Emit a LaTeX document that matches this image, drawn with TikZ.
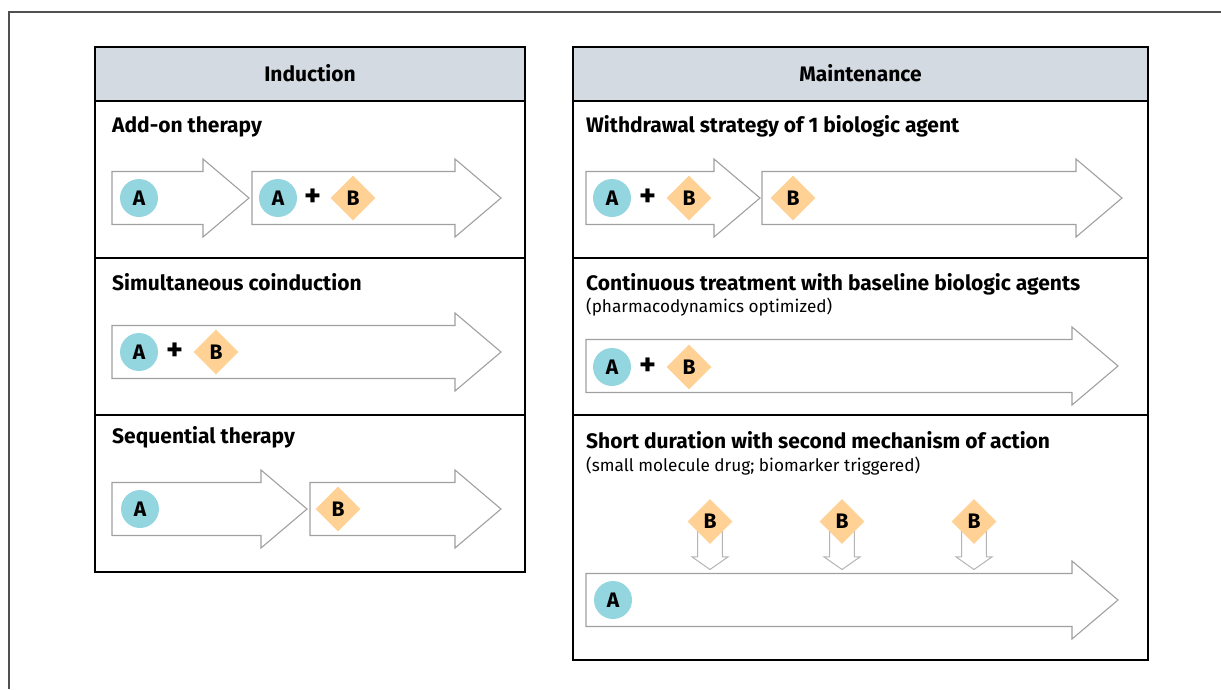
\documentclass[tikz,border=0pt]{standalone}
\usepackage{fontspec}
\setmainfont{Fira Sans}
\usetikzlibrary{shapes.geometric}
\definecolor{hdrfill}{HTML}{D3DAE1}
\definecolor{circfill}{HTML}{94D6E0}
\definecolor{diafill}{HTML}{FFD194}
\definecolor{arrgray}{HTML}{A0A0A0}
\definecolor{dngray}{HTML}{B4B4B4}
\definecolor{framegray}{HTML}{505050}
\tikzset{
  panel/.style={draw=black, line width=1.1pt},
  hdrbox/.style={fill=hdrfill, draw=black, line width=1.1pt},
  hdrtext/.style={font=\fontsize{21}{23}\selectfont\bfseries, anchor=base},
  rowtitle/.style={font=\fontsize{21}{23}\selectfont\bfseries, anchor=base west, inner sep=0pt},
  rowsub/.style={font=\fontsize{17.2}{19}\selectfont, anchor=base west, inner sep=0pt},
  arrowline/.style={draw=arrgray, line width=1.1pt, fill=white, line join=miter},
  dnarrow/.style={draw=dngray, line width=1pt, fill=white},
  circA/.style={circle, fill=circfill, minimum size=38pt, inner sep=0pt, font=\fontsize{21}{21}\selectfont\bfseries},
  diaB/.style={diamond, fill=diafill, minimum width=45pt, minimum height=45pt, inner sep=0pt, font=\fontsize{21}{21}\selectfont\bfseries},
  plussign/.style={inner sep=0pt, font=\fontsize{32}{32}\selectfont\bfseries}
}
\newcommand\fatarrow[3]{%
  \draw[arrowline] ({#1},{#3-26.5}) -- ({#2-46},{#3-26.5}) -- ({#2-46},{#3-39}) -- ({#2},{#3}) -- ({#2-46},{#3+39}) -- ({#2-46},{#3+26.5}) -- ({#1},{#3+26.5}) -- cycle;}
\newcommand\dnarrowB[3]{%
  \draw[dnarrow] ({#1-12.3},{#2}) -- ({#1-12.3},{#3-12.6}) -- ({#1-18},{#3-12.6}) -- ({#1},{#3}) -- ({#1+18},{#3-12.6}) -- ({#1+12.3},{#3-12.6}) -- ({#1+12.3},{#2});}
\begin{document}
\begin{tikzpicture}[x=1pt, y=-1pt]
\useasboundingbox (0,0) rectangle (1221,689);
% outer frame (top and left)
\draw[framegray, line width=1.3pt] (1221,12) -- (9,12) -- (9,689);

% ---------- Induction panel ----------
\draw[hdrbox] (95,47) rectangle (525,101);
\draw[panel] (95,47) rectangle (525,572);
\draw[panel] (95,258) -- (525,258);
\draw[panel] (95,415) -- (525,415);
\node[hdrtext] (hind) at (310,81.5) {Induction};

\node[rowtitle] (t1) at (112,132) {Add-on therapy};
\fatarrow{112}{249}{198}
\fatarrow{252}{501}{198}
\node[circA] (a11) at (139,198) {A};
\node[circA] (a12) at (278,198) {A};
\node[plussign] (p11) at (313,198) {+};
\node[diaB] (b11) at (353,198) {B};

\node[rowtitle] (t2) at (112,290) {Simultaneous coinduction};
\fatarrow{112}{501}{352}
\node[circA] (a21) at (139,352) {A};
\node[plussign] (p21) at (175,352) {+};
\node[diaB] (b21) at (216,352) {B};

\node[rowtitle] (t3) at (112,443) {Sequential therapy};
\fatarrow{112}{307}{509}
\fatarrow{310}{501}{509}
\node[circA] (a31) at (140,509) {A};
\node[diaB] (b31) at (338,509) {B};

% ---------- Maintenance panel ----------
\draw[hdrbox] (573,47) rectangle (1148,101);
\draw[panel] (573,47) rectangle (1148,660);
\draw[panel] (573,258) -- (1148,258);
\draw[panel] (573,415) -- (1148,415);
\node[hdrtext] (hmain) at (860.5,81.5) {Maintenance};

\node[rowtitle] (m1) at (586,132) {Withdrawal strategy of 1 biologic agent};
\fatarrow{586}{760}{198}
\fatarrow{762}{1122}{198}
\node[circA] (ma11) at (612,198) {A};
\node[plussign] (mp11) at (648,198) {+};
\node[diaB] (mb11) at (689,198) {B};
\node[diaB] (mb12) at (793,198) {B};

\node[rowtitle] (m2) at (586,290) {Continuous treatment with baseline biologic agents};
\node[rowsub] (m2s) at (586,312) {(pharmacodynamics optimized)};
\fatarrow{586}{1118}{366}
\node[circA] (ma21) at (612,367) {A};
\node[plussign] (mp21) at (648,367) {+};
\node[diaB] (mb21) at (689,367) {B};

\node[rowtitle] (m3) at (586,448) {Short duration with second mechanism of action};
\node[rowsub] (m3s) at (586,471) {(small molecule drug; biomarker triggered)};
\fatarrow{586}{1118}{600}
\dnarrowB{710}{522}{569.5}
\dnarrowB{842}{522}{569.5}
\dnarrowB{974}{522}{569.5}
\node[diaB] (mb31) at (710,521.5) {B};
\node[diaB] (mb32) at (842,521.5) {B};
\node[diaB] (mb33) at (974,521.5) {B};
\node[circA] (ma31) at (613,600) {A};
\end{tikzpicture}
\end{document}
